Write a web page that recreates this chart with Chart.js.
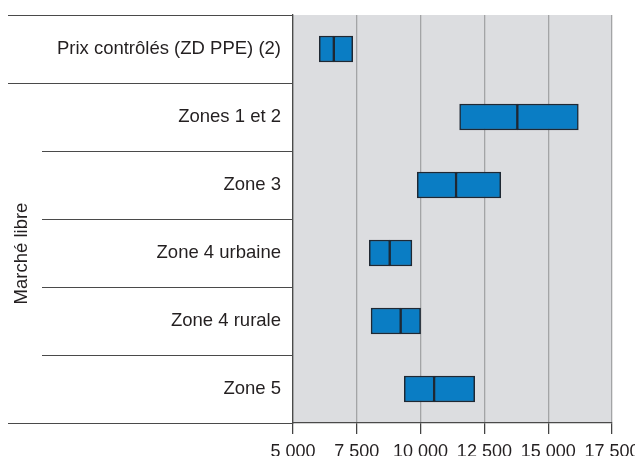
<!DOCTYPE html>
<html>
<head>
<meta charset="utf-8">
<script src="https://cdn.jsdelivr.net/npm/chart.js@4/dist/chart.umd.min.js"></script>
<style>
  html, body { margin: 0; padding: 0; background: #ffffff; }
  #wrap { width: 635px; height: 456px; position: relative; }
</style>
</head>
<body>
<div id="wrap"><canvas id="c" width="635" height="456"></canvas></div>
<script>
const categories = ['Prix contrôlés (ZD PPE) (2)', 'Zones 1 et 2', 'Zone 3', 'Zone 4 urbaine', 'Zone 4 rurale', 'Zone 5'];
const minValues = [6030, 11530, 9870, 7990, 8060, 9360];
const medianValues = [6600, 13790, 11390, 8790, 9220, 10530];
const maxValues = [7340, 16180, 13140, 9660, 10000, 12120];
const xTicks = [5000, 7500, 10000, 12500, 15000, 17500];
const groupLabel = 'Marché libre';

const textColor = '#231f20';
const lineColor = '#4a4a4a';
const fontFamily = '"Liberation Sans", Arial, Helvetica, sans-serif';

const decoPlugin = {
  id: 'deco',
  beforeDraw(chart) {
    const {ctx, chartArea} = chart;
    ctx.save();
    ctx.fillStyle = '#dcdde0';
    ctx.fillRect(chartArea.left, chartArea.top, chartArea.right - chartArea.left, chartArea.bottom - chartArea.top);
    ctx.restore();
  },
  afterDraw(chart) {
    const {ctx, chartArea} = chart;
    const y = chart.scales.y;
    const n = categories.length;
    const bounds = [];
    for (let i = 0; i <= n; i++) {
      let p;
      if (i === 0) p = chartArea.top;
      else if (i === n) p = chartArea.bottom;
      else p = (y.getPixelForValue(i - 1) + y.getPixelForValue(i)) / 2;
      bounds.push(Math.round(p) + 0.5);
    }
    ctx.save();
    ctx.strokeStyle = lineColor;
    ctx.lineWidth = 1.2;
    for (let i = 0; i <= n; i++) {
      const startX = (i <= 1 || i === n) ? 8 : 42;
      ctx.beginPath();
      ctx.moveTo(startX, bounds[i]);
      ctx.lineTo(chartArea.left, bounds[i]);
      ctx.stroke();
    }
    // group label
    const cy = (bounds[1] + bounds[n]) / 2;
    ctx.translate(22, cy);
    ctx.rotate(-Math.PI / 2);
    ctx.fillStyle = textColor;
    ctx.font = '18.5px ' + fontFamily;
    ctx.textAlign = 'center';
    ctx.textBaseline = 'middle';
    ctx.fillText(groupLabel, 0, 0);
    ctx.restore();
  }
};

const barColor = '#0a7dc4';
const barBorder = '#1f2833';

new Chart(document.getElementById('c'), {
  type: 'bar',
  data: {
    labels: categories,
    datasets: [
      {
        data: categories.map((c, i) => [minValues[i], medianValues[i]]),
        backgroundColor: barColor,
        borderColor: barBorder,
        borderWidth: 1.5,
        borderSkipped: false,
        barThickness: 26,
        grouped: false
      },
      {
        data: categories.map((c, i) => [medianValues[i], maxValues[i]]),
        backgroundColor: barColor,
        borderColor: barBorder,
        borderWidth: 1.5,
        borderSkipped: false,
        barThickness: 26,
        grouped: false
      }
    ]
  },
  options: {
    indexAxis: 'y',
    responsive: false,
    animation: false,
    layout: { padding: { left: 0, right: 23, top: 15, bottom: 0 } },
    plugins: { legend: { display: false }, tooltip: { enabled: false } },
    scales: {
      x: {
        type: 'linear',
        min: 5000,
        max: 17500,
        afterBuildTicks(scale) { scale.ticks = xTicks.map(v => ({ value: v })); },
        afterFit(scale) { scale.height = 33; scale.paddingLeft = 0; scale.paddingRight = 0; },
        grid: {
          color: '#a3a4a6',
          lineWidth: 1.3,
          tickLength: 11,
          tickColor: '#3a3a3a',
          tickWidth: 1.2
        },
        border: { display: true, color: lineColor, width: 1.3 },
        ticks: {
          color: textColor,
          padding: 7,
          font: { size: 18, family: fontFamily },
          maxRotation: 0,
          callback: (v) => String(v).replace(/\B(?=(\d{3})+(?!\d))/g, ' ')
        }
      },
      y: {
        afterFit(scale) { scale.width = 293; scale.paddingTop = 0; scale.paddingBottom = 0; },
        grid: { display: false, drawTicks: false },
        border: { display: true, color: lineColor, width: 1.3 },
        ticks: {
          color: textColor,
          padding: 12,
          font: { size: 18.5, family: fontFamily }
        }
      }
    }
  },
  plugins: [decoPlugin]
});
</script>
</body>
</html>
